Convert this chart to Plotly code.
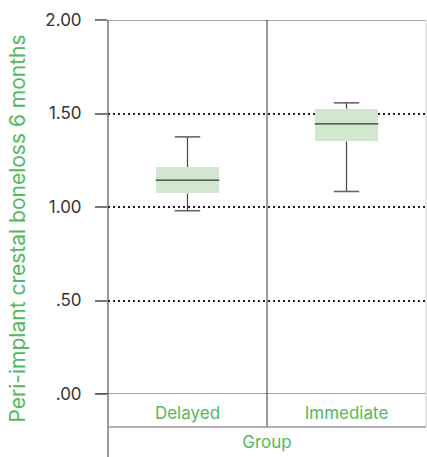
import plotly.graph_objects as go

# Box-plot summary per group
groups = ["Delayed", "Immediate"]
lower = [0.98, 1.083]
q1 = [1.073, 1.351]
median = [1.144, 1.444]
q3 = [1.214, 1.526]
upper = [1.375, 1.557]

y_ticks = [0.0, 0.5, 1.0, 1.5, 2.0]
y_ticktext = [".00", ".50", "1.00", "1.50", "2.00"]
y_title = "Peri-implant crestal boneloss 6 months"

GREEN_TEXT = "#52b95c"
BOX_FILL = "#d2e7cf"
DARK = "#333333"

box_w = 0.4
cap_w = 0.08
xs = list(range(len(groups)))

fig = go.Figure()

# Boxes (interquartile range) as floating bars
fig.add_trace(go.Bar(
    x=xs, y=[b - a for a, b in zip(q1, q3)], base=q1, width=box_w,
    marker=dict(color=BOX_FILL, line=dict(width=0)),
    hoverinfo="skip", showlegend=False,
))

# Whisker stems
wx, wy = [], []
for i in xs:
    wx += [i, i, None, i, i, None]
    wy += [q3[i], upper[i], None, q1[i], lower[i], None]
fig.add_trace(go.Scatter(x=wx, y=wy, mode="lines",
                         line=dict(color="#444444", width=1.2),
                         hoverinfo="skip", showlegend=False))

# Whisker caps
cx, cy = [], []
for i in xs:
    cx += [i - cap_w, i + cap_w, None, i - cap_w, i + cap_w, None]
    cy += [upper[i], upper[i], None, lower[i], lower[i], None]
fig.add_trace(go.Scatter(x=cx, y=cy, mode="lines",
                         line=dict(color="#666666", width=1.6),
                         hoverinfo="skip", showlegend=False))

# Medians
mx, my = [], []
for i in xs:
    mx += [i - box_w / 2, i + box_w / 2, None]
    my += [median[i], median[i], None]
fig.add_trace(go.Scatter(x=mx, y=my, mode="lines",
                         line=dict(color=DARK, width=1.2),
                         hoverinfo="skip", showlegend=False))

W, H = 427, 457
L, R, T, B = 108, 1, 20, 63
plot_h = H - T - B
plot_w = W - L - R
cat_row = -33 / plot_h       # bottom of the category-label row
fig_bottom = -B / plot_h
tick_left = -12 / plot_w

shapes = [
    # frame line at 2.00 and baseline at .00
    dict(type="line", xref="paper", yref="y", x0=tick_left, x1=1, y0=2, y1=2,
         line=dict(color="#888888", width=1.5)),
    dict(type="line", xref="paper", yref="y", x0=tick_left, x1=1, y0=0, y1=0,
         line=dict(color="#444444", width=1)),
    # left axis line extending through the label rows
    dict(type="line", xref="paper", yref="paper", x0=0, x1=0, y0=fig_bottom, y1=1,
         line=dict(color=DARK, width=1)),
    # divider between groups
    dict(type="line", xref="x", yref="paper", x0=0.5, x1=0.5, y0=cat_row, y1=1,
         line=dict(color=DARK, width=1)),
    # right border
    dict(type="line", xref="paper", yref="paper", x0=1, x1=1, y0=cat_row, y1=1,
         line=dict(color="#cccccc", width=1)),
    # separator between category row and axis-title row
    dict(type="line", xref="paper", yref="paper", x0=0, x1=1, y0=cat_row, y1=cat_row,
         line=dict(color="#999999", width=1.5)),
]

# Vertical axis title, centred on the whole figure height
annotations = [
    dict(text=y_title, textangle=-90, showarrow=False,
         xref="paper", yref="paper",
         x=(17 - L) / plot_w, y=(H - B - H / 2) / plot_h,
         xanchor="center", yanchor="middle",
         font=dict(size=21, color=GREEN_TEXT)),
]

fig.update_layout(
    width=W, height=H,
    margin=dict(l=L, r=R, t=T, b=B),
    paper_bgcolor="white", plot_bgcolor="white",
    font=dict(family="Inter, Liberation Sans, sans-serif"),
    shapes=shapes,
    annotations=annotations,
    bargap=0,
    xaxis=dict(
        range=[-0.5, 1.5], tickvals=xs, ticktext=groups,
        showgrid=False, zeroline=False, showline=False, ticks="",
        ticklabelstandoff=7,
        tickfont=dict(size=17, color=GREEN_TEXT),
        title=dict(text="Group", font=dict(size=17, color=GREEN_TEXT), standoff=14),
    ),
    yaxis=dict(
        range=[0, 2], tickvals=y_ticks, ticktext=y_ticktext,
        showgrid=True, griddash="2px,3px", gridcolor="#222222", gridwidth=1.5,
        zeroline=False, showline=False,
        ticks="outside", ticklen=12, tickcolor="#777777", tickwidth=1.5,
        ticklabelstandoff=10,
        tickfont=dict(size=17, color="#333333"),
    ),
)

fig.write_html("out.html")
